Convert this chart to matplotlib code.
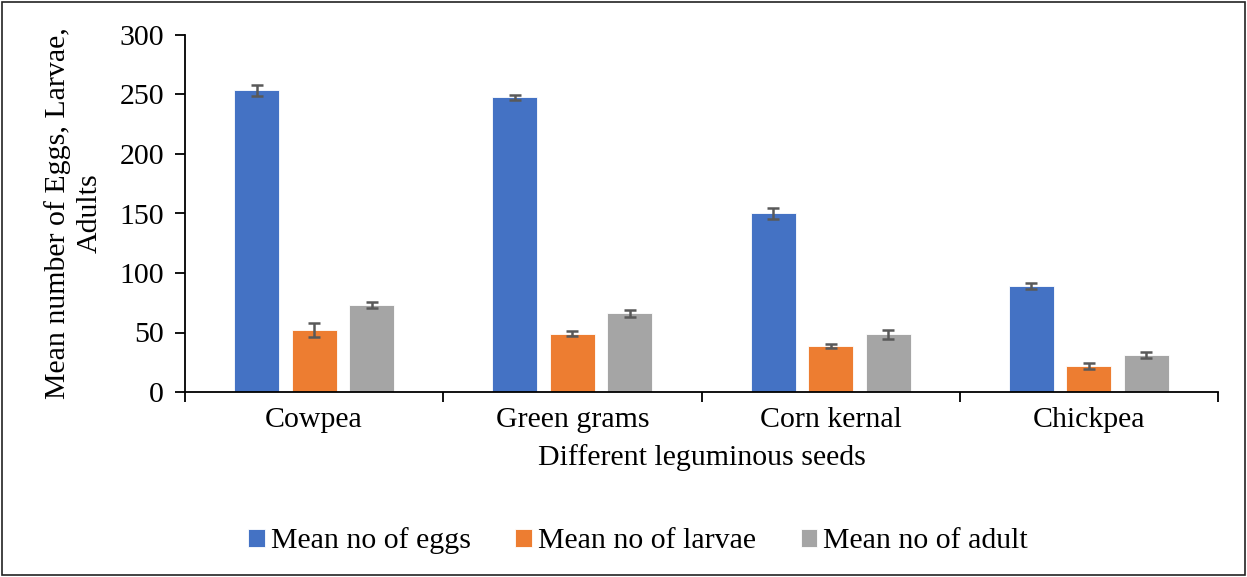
import numpy as np
from matplotlib import pyplot as plt
from matplotlib import patches

# Data:
seeds = ['Cowpea', 'Green grams', 'Corn kernal', 'Chickpea']
series_names = ['Mean no of eggs', 'Mean no of larvae', 'Mean no of adult']
eggs = [253.5, 247.5, 150, 89]
larvae = [52, 49, 39, 22]
adults = [73, 66, 48.5, 31]
eggs_err = [4.5, 1.8, 4.5, 2.4]
larvae_err = [6, 2.2, 1.7, 2.3]
adults_err = [2.3, 3.3, 3.6, 2.2]
colors = ['#4472C4', '#ED7D31', '#A5A5A5']

plt.rcParams['font.family'] = ['Liberation Serif', 'DejaVu Serif']
fs = 21.5

# Create figure and axes:
fig = plt.figure(figsize=(12.47, 5.77), dpi=100)
ax = fig.add_axes([185 / 1247, 1 - 392 / 577, (1218 - 185) / 1247, (392 - 35) / 577])

## Bars with error bars:
x = np.arange(len(seeds)) + 0.5
offset = 0.223
width = 0.174
values = [eggs, larvae, adults]
errors = [eggs_err, larvae_err, adults_err]
for i in range(3):
    ax.bar(x + (i - 1) * offset, values[i], width, color=colors[i], edgecolor='white',
           linewidth=0.6, label=series_names[i], zorder=2)
    ax.errorbar(x + (i - 1) * offset, values[i], yerr=errors[i], fmt='none', ecolor='#595959',
                elinewidth=1.8, capsize=4.5, capthick=1.8, zorder=3)

## Limits, ticks, labels:
ax.set_xlim(0, len(seeds))
ax.set_ylim(0, 300)
ax.set_yticks(np.arange(0, 301, 50))
ax.set_xticks(np.arange(0, len(seeds) + 1))
ax.set_xticklabels([])
ax.set_xticks(x, minor=True)
ax.set_xticklabels(seeds, minor=True)
ax.tick_params(axis='x', which='major', length=7, width=1.3, direction='out')
ax.tick_params(axis='x', which='minor', length=0, pad=11, labelsize=fs)
ax.tick_params(axis='y', length=7, width=1.3, direction='out', labelsize=fs, pad=8)
for side in ['top', 'right']:
    ax.spines[side].set_visible(False)
for side in ['left', 'bottom']:
    ax.spines[side].set_linewidth(1.3)
ax.set_xlabel('Different leguminous seeds', fontsize=fs, labelpad=8)
ax.set_ylabel('Mean number of Eggs, Larvae,\nAdults', fontsize=fs, labelpad=12, linespacing=1.3)

## Legend at the bottom:
ax.legend(loc='center', bbox_to_anchor=(638 / 1247, 1 - 541 / 577), bbox_transform=fig.transFigure,
          ncol=3, frameon=False, fontsize=fs, handlelength=0.55, handleheight=0.55,
          handletextpad=0.2, columnspacing=1.5)

## Outer border:
fig.patches.append(patches.Rectangle((0.002, 0.003), 0.996, 0.994, transform=fig.transFigure,
                                     fill=False, edgecolor='#222222', linewidth=1.2))

plt.savefig('out.png', dpi=100)
plt.close(fig)
